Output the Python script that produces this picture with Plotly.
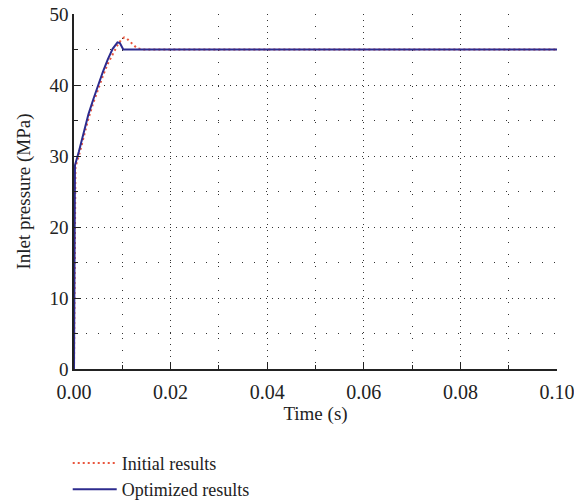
import plotly.graph_objects as go

# Inlet pressure response (MPa) vs time (s)
t_initial = [0.0, 0.0003, 0.001, 0.002, 0.003, 0.004, 0.005, 0.006, 0.007, 0.008,
             0.009, 0.0098, 0.0104, 0.011, 0.012, 0.013, 0.014, 0.015, 0.1]
p_initial = [0.0, 28.5, 30.0, 32.8, 35.3, 37.5, 39.5, 41.3, 43.0, 44.4,
             45.6, 46.4, 46.7, 46.5, 45.8, 45.2, 45.02, 45.0, 45.0]

t_optimized = [0.0, 0.0002, 0.001, 0.002, 0.003, 0.004, 0.005, 0.006, 0.007, 0.008,
               0.009, 0.0095, 0.0102, 0.1]
p_optimized = [0.0, 28.7, 30.6, 33.4, 35.9, 38.0, 40.0, 41.9, 43.6, 45.1,
               46.0, 45.9, 45.0, 45.0]

x_major = [0.0, 0.02, 0.04, 0.06, 0.08, 0.10]
x_labels = ["0.00", "0.02", "0.04", "0.06", "0.08", "0.10"]
x_minor = [0.01, 0.03, 0.05, 0.07, 0.09]
y_major = [0, 10, 20, 30, 40, 50]
y_minor = [5, 15, 25, 35, 45]

FONT = "Liberation Serif, Times New Roman, serif"
RED = "#e9553c"
BLUE = "#2d2b8e"

fig = go.Figure()
fig.add_trace(go.Scatter(x=t_initial, y=p_initial, mode="lines", name="Initial results",
                         line=dict(color=RED, width=2, dash="2px,3px")))
fig.add_trace(go.Scatter(x=t_optimized, y=p_optimized, mode="lines", name="Optimized results",
                         line=dict(color=BLUE, width=2)))
# carrier trace for the grid-only overlay axes
fig.add_trace(go.Scatter(x=[None], y=[None], xaxis="x2", yaxis="y2", showlegend=False,
                         hoverinfo="skip"))

fig.update_layout(
    width=574, height=502,
    margin=dict(l=74, r=17, t=14, b=133),
    paper_bgcolor="white", plot_bgcolor="white",
    font=dict(family=FONT, size=18, color="#222"),
    showlegend=True,
    legend=dict(x=-0.013, y=0.114, xanchor="left", yanchor="top", yref="container",
                font=dict(family=FONT, size=18, color="#222"),
                bgcolor="rgba(0,0,0,0)", tracegroupgap=0, itemwidth=44),
    xaxis=dict(range=[0, 0.1], tickvals=x_major, ticktext=x_labels, automargin=False,
               ticklabeloverflow="allow", ticklabelstandoff=4,
               showgrid=False, zeroline=False, showline=True, linecolor="#222", linewidth=1.5,
               ticks="inside", ticklen=7, tickwidth=1.3, tickcolor="#222",
               minor=dict(tickvals=x_minor, ticks="inside", ticklen=4, tickwidth=1, tickcolor="#222",
                          showgrid=False),
               title=dict(text="Time (s)", font=dict(family=FONT, size=19), standoff=2),
               tickfont=dict(family=FONT, size=20)),
    yaxis=dict(range=[0, 50], tickvals=y_major, automargin=False,
               ticklabeloverflow="allow",
               showgrid=False, zeroline=False, showline=True, linecolor="#222", linewidth=1.5,
               ticks="inside", ticklen=7, tickwidth=1.3, tickcolor="#222",
               minor=dict(tickvals=y_minor, ticks="inside", ticklen=4, tickwidth=1, tickcolor="#222",
                          showgrid=False),
               title=dict(text="Inlet pressure (MPa)", font=dict(family=FONT, size=19), standoff=14),
               tickfont=dict(family=FONT, size=19)),
    xaxis2=dict(overlaying="x", range=[0, 0.1], tickvals=[0.02, 0.04, 0.06, 0.08],
                showticklabels=False, ticks="", showline=False, zeroline=False, automargin=False,
                showgrid=True, griddash="1px,5px", gridcolor="#333", gridwidth=1,
                minor=dict(tickvals=x_minor, showgrid=True, griddash="1px,11px",
                           gridcolor="#333", gridwidth=1, ticks="")),
    yaxis2=dict(overlaying="y", range=[0, 50], tickvals=[10, 20, 30, 40],
                showticklabels=False, ticks="", showline=False, zeroline=False, automargin=False,
                showgrid=True, griddash="1px,5px", gridcolor="#333", gridwidth=1,
                minor=dict(tickvals=y_minor, showgrid=True, griddash="1px,11px",
                           gridcolor="#333", gridwidth=1, ticks="")),
)

fig.write_html("out.html")
